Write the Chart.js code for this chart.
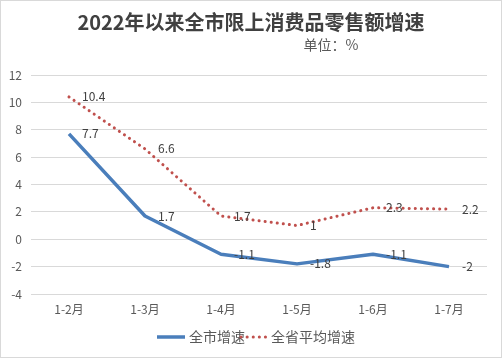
<!DOCTYPE html>
<html><head><meta charset="utf-8">
<script src="https://cdn.jsdelivr.net/npm/chart.js@4/dist/chart.umd.min.js"></script>
<style>html,body{margin:0;padding:0;background:#fff}#wrap{width:502px;height:358px}</style>
</head><body><div id="wrap"><canvas id="c" width="502" height="358"></canvas></div>
<script>
const categories = ['1-2月','1-3月','1-4月','1-5月','1-6月','1-7月'];
const cityGrowth = [7.7, 1.7, -1.1, -1.8, -1.1, -2];
const provinceGrowth = [10.4, 6.6, 1.7, 1, 2.3, 2.2];
const seriesNames = ['全市增速','全省平均增速'];
const titleText = '2022年以来全市限上消费品零售额增速';
const unitText = '单位：%';
const FONT = '"Noto Sans CJK SC","Noto Sans",sans-serif';
const BLUE = '#4a7ebb', RED = '#c0504d';

const deco = {
  id:'deco',
  beforeDraw(chart){
    const ctx = chart.ctx;
    ctx.save();
    ctx.fillStyle='#fff'; ctx.fillRect(0,0,502,358);
    ctx.restore();
  },
  afterDraw(chart){
    const ctx = chart.ctx;
    ctx.save();
    ctx.strokeStyle='#d9d9d9'; ctx.lineWidth=1;
    ctx.strokeRect(0.5,0.5,501,357);
    // title
    ctx.fillStyle='#404040'; ctx.textAlign='center'; ctx.textBaseline='middle';
    ctx.font='bold 20px '+FONT;
    ctx.fillText(titleText, 251, 22);
    ctx.fillStyle='#595959'; ctx.font='14px '+FONT;
    ctx.fillText(unitText, 331, 45);
    // data labels
    ctx.font='12px '+FONT; ctx.fillStyle='#404040'; ctx.textAlign='left';
    chart.data.datasets.forEach((ds,i)=>{
      const meta = chart.getDatasetMeta(i);
      meta.data.forEach((pt,j)=>{
        ctx.fillText(String(ds.data[j]), pt.x+13, pt.y);
      });
    });
    // legend
    const ly = 337;
    ctx.lineCap='butt'; ctx.strokeStyle=BLUE; ctx.lineWidth=3.5; ctx.setLineDash([]);
    ctx.beginPath(); ctx.moveTo(157,ly); ctx.lineTo(185,ly); ctx.stroke();
    ctx.font='14px '+FONT; ctx.fillStyle='#595959'; ctx.textAlign='left';
    ctx.fillText(seriesNames[0], 189, ly);
    ctx.strokeStyle=RED; ctx.lineWidth=3; ctx.lineCap='round'; ctx.setLineDash([0.1,6]);
    ctx.beginPath(); ctx.moveTo(241,ly); ctx.lineTo(266,ly); ctx.stroke();
    ctx.setLineDash([]);
    ctx.fillText(seriesNames[1], 271, ly);
    ctx.restore();
  }
};

new Chart(document.getElementById('c'), {
  type:'line',
  data:{
    labels:categories,
    datasets:[
      {label:seriesNames[0], data:cityGrowth, borderColor:BLUE, borderWidth:3.5, pointRadius:0, tension:0, borderJoinStyle:'round'},
      {label:seriesNames[1], data:provinceGrowth, borderColor:RED, borderWidth:3, borderDash:[0.1,6], borderCapStyle:'round', pointRadius:0, tension:0}
    ]
  },
  options:{
    responsive:false, animation:false,
    layout:{padding:{left:0, top:75, right:15, bottom:0}},
    plugins:{legend:{display:false}, title:{display:false}, tooltip:{enabled:false}},
    scales:{
      x:{offset:true, grid:{display:false, drawTicks:false}, border:{display:false},
         ticks:{padding:8, color:'#595959', font:{family:FONT, size:12}},
         afterFit(s){ s.height = 64; }},
      y:{min:-4, max:12, grid:{color:'#d9d9d9', drawTicks:false}, border:{display:false},
         ticks:{stepSize:2, padding:9, color:'#595959', font:{family:FONT, size:12}},
         afterFit(s){ s.width = 31; }}
    }
  },
  plugins:[deco]
});
</script></body></html>
